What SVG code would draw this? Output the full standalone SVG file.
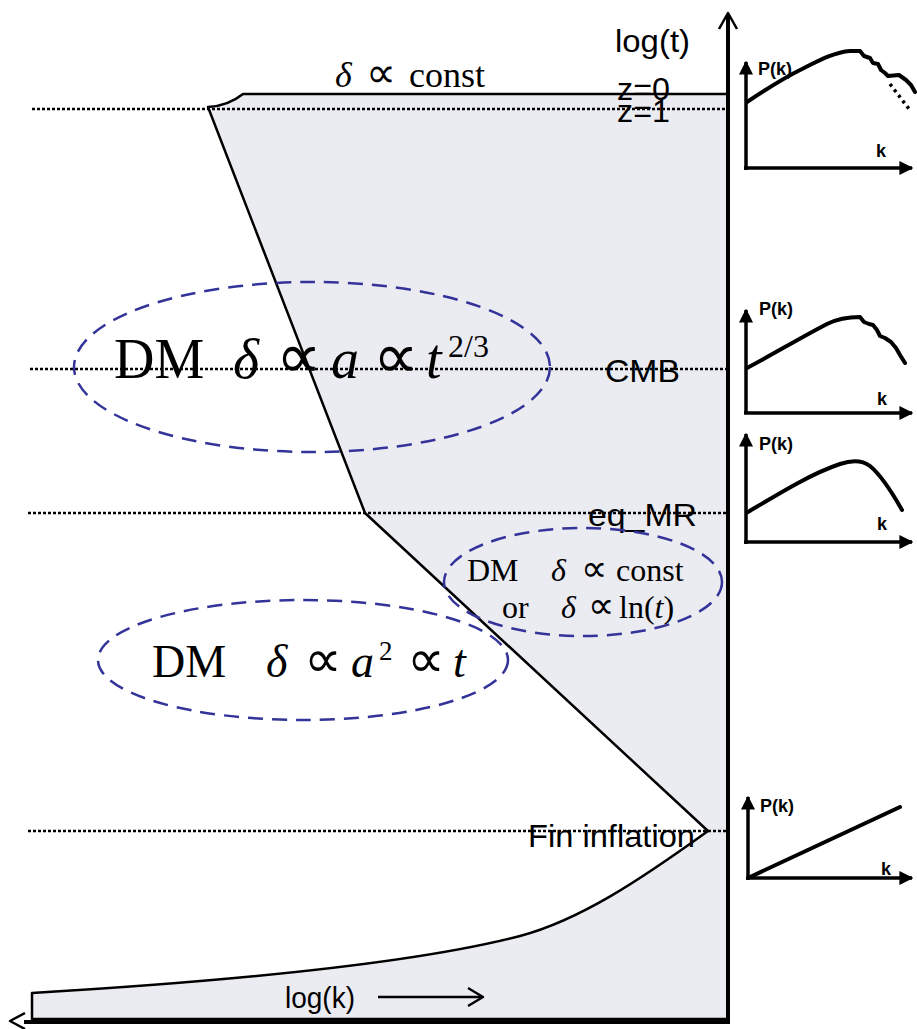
<svg xmlns="http://www.w3.org/2000/svg" width="917" height="1029" viewBox="0 0 917 1029">
<style>
.sans{font-family:"Liberation Sans",Arial,sans-serif;fill:#000}
.bold{font-family:"Liberation Sans",Arial,sans-serif;font-weight:bold;fill:#000;font-size:18px}
.serif{font-family:"Liberation Serif","Times New Roman",serif;fill:#000}
.it{font-style:italic}
.dot{stroke:#000;stroke-width:2.5;stroke-dasharray:3 2;fill:none}
.ell{fill:none;stroke:#333399;stroke-width:2.5;stroke-dasharray:15 9}
.ln{fill:none;stroke:#000;stroke-width:2.5;stroke-linejoin:round}
.ax{fill:none;stroke:#000;stroke-width:4}
.pax{fill:none;stroke:#000;stroke-width:3.5}
.pc{fill:none;stroke:#000;stroke-width:4;stroke-linejoin:round;stroke-linecap:round}
</style>
<defs>
<marker id="ah" viewBox="0 0 10 10" refX="9" refY="5" markerWidth="4" markerHeight="4" orient="auto" markerUnits="strokeWidth">
<path d="M0,0 L10,5 L0,10 z" fill="#000"/>
</marker>
</defs>
<rect width="917" height="1029" fill="#fff"/>

<g id="shaded-region">
<path d="M243,94 L728,94 L728,1019 L32,1019 L32,993 C250,980 420,962 520,936 C580,920 640,880 708,831 L365,513 L208,107 Q228,106 243,94 Z" fill="#ebebf2" stroke="none"/>
<path class="ln" d="M728,94 L243,94 Q228,106 208,107 L365,513 L708,831 C640,880 580,920 520,936 C420,962 250,980 32,993 L32,1019 L728,1019"/>
</g>

<g id="dotted-lines">
<line class="dot" x1="32" y1="109" x2="728" y2="109"/>
<line class="dot" x1="30" y1="369" x2="728" y2="369"/>
<line class="dot" x1="28" y1="513" x2="728" y2="513"/>
<line class="dot" x1="28" y1="831" x2="728" y2="831"/>
</g>

<g id="axes">
<line class="ax" x1="728" y1="14" x2="728" y2="1022"/>
<polyline class="ln" points="719,29 728,13 737,29"/>
<line class="ax" x1="24" y1="1022" x2="730" y2="1022"/>
<polyline class="ln" points="25,1013 10,1021 25,1029"/>
<line class="ln" x1="378" y1="997" x2="482" y2="997"/>
<polyline class="ln" points="468,988 483,997 468,1006"/>
</g>

<g id="labels">
<text class="sans" x="615" y="52" font-size="32" textLength="75" lengthAdjust="spacingAndGlyphs">log(t)</text>
<text class="sans" x="617" y="100" font-size="32" textLength="53" lengthAdjust="spacingAndGlyphs">z=0</text>
<text class="sans" x="617" y="122" font-size="32" textLength="53" lengthAdjust="spacingAndGlyphs">z=1</text>
<text class="sans" x="605" y="382" font-size="32" textLength="75" lengthAdjust="spacingAndGlyphs">CMB</text>
<text class="sans" x="588" y="526" font-size="32" textLength="109" lengthAdjust="spacingAndGlyphs">eq_MR</text>
<text class="sans" x="528" y="847" font-size="32" textLength="167" lengthAdjust="spacingAndGlyphs">Fin inflation</text>
<text class="sans" x="285" y="1008" font-size="30" textLength="70" lengthAdjust="spacingAndGlyphs">log(k)</text>
<text class="serif" y="87" font-size="36"><tspan class="it" x="335">δ</tspan><tspan x="366" font-size="42">∝</tspan><tspan x="409">const</tspan></text>
</g>

<g id="ellipse-late">
<ellipse class="ell" cx="312" cy="367" rx="238" ry="85"/>
<text class="serif" y="378" font-size="56"><tspan x="114">DM</tspan><tspan class="it" x="233">δ</tspan><tspan x="276" font-size="64">∝</tspan><tspan class="it" x="331">a</tspan><tspan x="373" font-size="64">∝</tspan><tspan class="it" x="426">t</tspan></text>
<text class="serif" x="448" y="357" font-size="32">2/3</text>
</g>

<g id="ellipse-mid">
<ellipse class="ell" cx="583" cy="582" rx="139" ry="54"/>
<text class="serif" y="581" font-size="32"><tspan x="467">DM</tspan><tspan class="it" x="551">δ</tspan><tspan x="581" font-size="37">∝</tspan><tspan x="616">const</tspan></text>
<text class="serif" y="618" font-size="32"><tspan x="502">or</tspan><tspan class="it" x="561">δ</tspan><tspan x="588" font-size="37">∝</tspan><tspan x="619">ln(</tspan><tspan class="it">t</tspan><tspan>)</tspan></text>
</g>

<g id="ellipse-early">
<ellipse class="ell" cx="303" cy="660" rx="205" ry="60"/>
<text class="serif" y="677" font-size="46"><tspan x="152">DM</tspan><tspan class="it" x="266">δ</tspan><tspan x="304" font-size="53">∝</tspan><tspan class="it" x="351">a</tspan><tspan x="407" font-size="53">∝</tspan><tspan class="it" x="453">t</tspan></text>
<text class="serif" x="379" y="660" font-size="27">2</text>
</g>

<g id="pk-today">
<line class="pax" x1="746" y1="170" x2="746" y2="62" marker-end="url(#ah)"/>
<line class="pax" x1="744" y1="168" x2="912" y2="168" marker-end="url(#ah)"/>
<text class="bold" x="758" y="75">P(k)</text>
<text class="bold" x="876" y="157">k</text>
<path class="pc" d="M747,102 C765,90 780,80 800,70 C820,60 835,52 850,51 L860,51 L864,56 L870,58 L873,63 L878,64 L881,70 L885,73 L888,76 L899,75 L906,80 L911,85 L915,92"/>
<path d="M890,84 L909,109" fill="none" stroke="#000" stroke-width="3.5" stroke-dasharray="3 4"/>
</g>

<g id="pk-cmb">
<line class="pax" x1="746" y1="414" x2="746" y2="310" marker-end="url(#ah)"/>
<line class="pax" x1="744" y1="413" x2="912" y2="413" marker-end="url(#ah)"/>
<text class="bold" x="759" y="315">P(k)</text>
<text class="bold" x="877" y="405">k</text>
<path class="pc" d="M747,368 C770,356 800,338 827,324 C835,320 845,317 860,317 L864,322 L869,324 L873,325 L877,330 L880,336 L885,338 L891,342 L896,348 L900,355 L905,363"/>
</g>

<g id="pk-eq">
<line class="pax" x1="746" y1="544" x2="746" y2="434" marker-end="url(#ah)"/>
<line class="pax" x1="744" y1="542" x2="912" y2="542" marker-end="url(#ah)"/>
<text class="bold" x="759" y="450">P(k)</text>
<text class="bold" x="877" y="530">k</text>
<path class="pc" d="M748,512 C775,496 810,474 840,464 C852,460 862,460 870,466 C882,476 893,494 902,510"/>
</g>

<g id="pk-inflation">
<line class="pax" x1="748" y1="880" x2="748" y2="797" marker-end="url(#ah)"/>
<line class="pax" x1="746" y1="878" x2="912" y2="878" marker-end="url(#ah)"/>
<text class="bold" x="760" y="812">P(k)</text>
<text class="bold" x="881" y="875">k</text>
<line class="pc" x1="750" y1="877" x2="900" y2="807"/>
</g>
</svg>
